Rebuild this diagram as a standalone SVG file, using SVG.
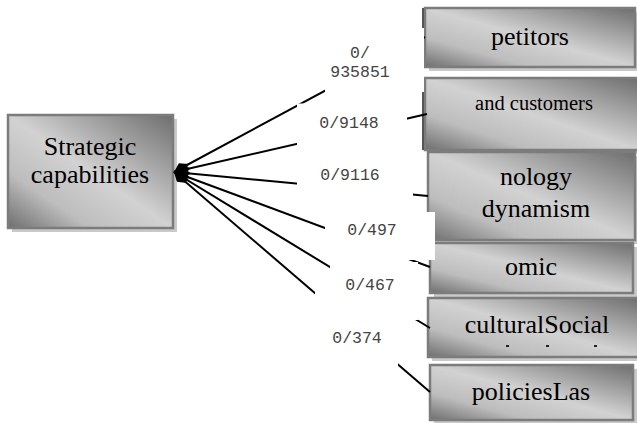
<svg xmlns="http://www.w3.org/2000/svg" width="637" height="423" viewBox="0 0 637 423">
<defs>
<linearGradient id="g" x1="1" y1="0" x2="0" y2="1">
<stop offset="0" stop-color="#6e6e6e"/>
<stop offset="0.5" stop-color="#d2d2d2"/>
<stop offset="0.75" stop-color="#bdbdbd"/>
<stop offset="1" stop-color="#6e6e6e"/>
</linearGradient>
<marker id="dia" markerUnits="userSpaceOnUse" viewBox="0 0 17 11" refX="0" refY="5.5" markerWidth="17" markerHeight="11" orient="auto">
<path d="M0,5.5 L8.5,0 L17,5.5 L8.5,11 Z" fill="#000"/>
</marker>
</defs>
<style>
.box{fill:url(#g);stroke:#7c7c7c;stroke-width:2.5}
.sh{fill:#c9c9c9}
.t{font-family:'Liberation Serif','DejaVu Serif',serif;font-size:26px;fill:#000;text-anchor:middle}
.lbl{font-family:'Liberation Mono','DejaVu Sans Mono',monospace;font-size:16.5px;fill:#444;text-anchor:middle}
.ln{stroke:#000;stroke-width:2;fill:none;marker-start:url(#dia)}
.wb{fill:#fff}
.edge{fill:#555}
</style>
<g id="strategic">
<rect class="sh" x="12" y="119" width="165" height="113"/>
<rect class="box" x="8" y="115" width="165" height="113"/>
<text class="t" x="90" y="155" font-family="Liberation Serif, serif">Strategic</text>
<text class="t" x="90" y="183" font-family="Liberation Serif, serif">capabilities</text>
</g>
<g id="petitors">
<rect class="sh" x="429" y="12" width="208" height="59"/>
<rect class="box" x="425" y="8" width="210" height="59"/>
<rect class="edge" x="422" y="8" width="2" height="27"/>
<text class="t" x="530" y="45" font-family="Liberation Serif, serif">petitors</text>
</g>
<g id="customers">
<rect class="sh" x="429" y="82" width="208" height="72"/>
<rect class="box" x="425" y="78" width="214" height="72"/>
<rect class="edge" x="422" y="92" width="2" height="58"/>
<text class="t" x="534" y="110" font-family="Liberation Serif, serif" style="font-size:20.5px">and customers</text>
</g>
<g id="technology">
<rect class="sh" x="432" y="156" width="205" height="88"/>
<rect class="box" x="428" y="152" width="207" height="88"/>
<text class="t" x="536" y="185" font-family="Liberation Serif, serif">nology</text>
<text class="t" x="536" y="217" font-family="Liberation Serif, serif">dynamism</text>
</g>
<g id="economic">
<rect class="sh" x="434" y="247" width="203" height="50"/>
<rect class="box" x="430" y="243" width="203" height="50"/>
<text class="t" x="531" y="275" font-family="Liberation Serif, serif">omic</text>
</g>
<g id="sociocultural">
<rect class="sh" x="432" y="302" width="205" height="59"/>
<rect class="box" x="428" y="298" width="211" height="59"/>
<text class="t" x="537" y="333" font-family="Liberation Serif, serif">culturalSocial</text>
<rect x="506" y="345" width="3" height="2" fill="#222"/>
<rect x="546" y="345" width="3" height="2" fill="#222"/>
<rect x="594" y="345" width="3" height="2" fill="#222"/>
</g>
<g id="policies">
<rect class="sh" x="434" y="369" width="203" height="54"/>
<rect class="box" x="430" y="365" width="203" height="55"/>
<text class="t" x="531" y="400" font-family="Liberation Serif, serif">policiesLas</text>
</g>
<g id="connectors">
<line class="ln" x1="174" y1="172" x2="425" y2="37"/>
<line class="ln" x1="174" y1="172" x2="427" y2="114"/>
<line class="ln" x1="174" y1="172" x2="428" y2="196"/>
<line class="ln" x1="174" y1="172" x2="430" y2="267"/>
<line class="ln" x1="174" y1="172" x2="430" y2="328"/>
<line class="ln" x1="174" y1="172" x2="430" y2="392"/>
</g>
<g id="labels">
<rect class="wb" x="325" y="28" width="99" height="64"/>
<text class="lbl" x="360" y="58">0/</text>
<text class="lbl" x="360" y="77">935851</text>
<rect class="wb" x="297" y="103.5" width="110" height="45"/>
<text class="lbl" x="349" y="128">0/9148</text>
<rect class="wb" x="297" y="160" width="116" height="40"/>
<text class="lbl" x="350" y="180">0/9116</text>
<rect class="wb" x="325" y="212" width="110" height="48"/>
<text class="lbl" x="372" y="235">0/497</text>
<rect class="wb" x="330" y="262" width="88" height="58"/>
<text class="lbl" x="370" y="290">0/467</text>
<rect class="wb" x="315" y="292" width="83" height="75"/>
<text class="lbl" x="357" y="343">0/374</text>
</g>
</svg>
